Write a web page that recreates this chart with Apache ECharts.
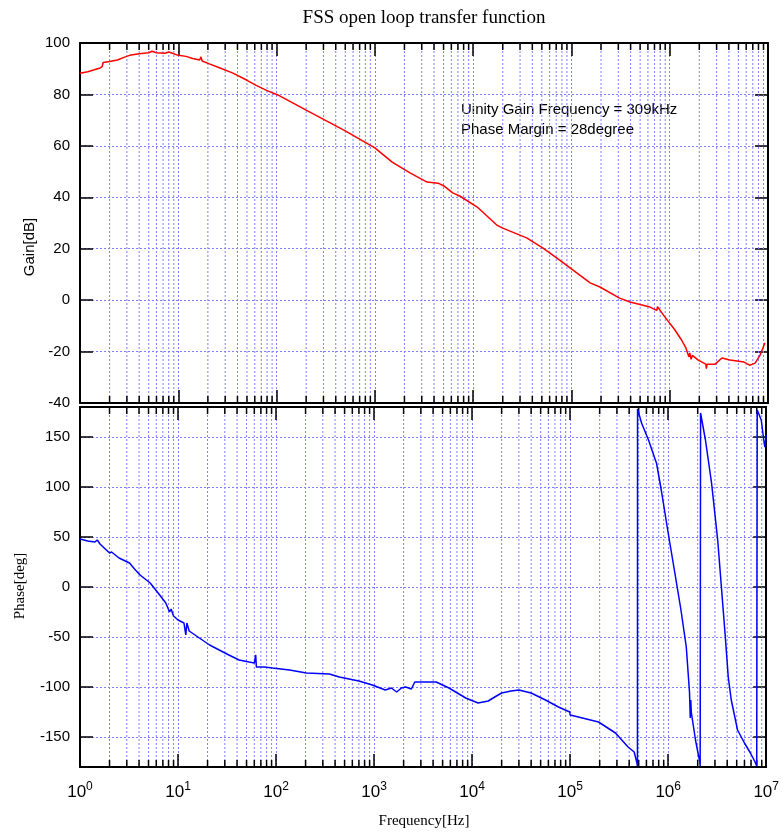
<!DOCTYPE html>
<html>
<head>
<meta charset="utf-8">
<script src="https://cdn.jsdelivr.net/npm/echarts@6/dist/echarts.min.js"></script>
<style>
  html, body { margin: 0; padding: 0; background: #fff; }
  #chart { width: 782px; height: 837px; }
</style>
</head>
<body>
<div id="chart"></div>
<script>
// gain curve (Hz, dB)
var gainFreq = [1, 1.2, 1.4, 1.6, 1.68, 1.72, 2.0, 2.4, 2.8, 3.2, 4.0, 5.0, 5.4, 6.0, 7.3, 8.0, 10, 12, 14, 16.5, 17, 17.5,
  21, 27, 36, 50, 62, 80, 103, 200, 500, 1000, 1500, 2300, 3400, 4400, 5000, 6200, 7300, 11000, 17400, 20000, 35000,
  51000, 76000, 155000, 195000, 309000, 394000, 630000, 740000, 750000, 895000, 1.13e6, 1.32e6, 1.46e6, 1.57e6, 1.6e6,
  1.65e6, 1.7e6, 1.95e6, 2.33e6, 2.36e6, 2.4e6, 2.9e6, 3.4e6, 4.1e6, 5.7e6, 6.5e6, 7.4e6, 8.3e6, 9.3e6]
var gainDb = [88.2, 88.8, 89.6, 90.3, 90.8, 92.4, 92.8, 93.4, 94.4, 95.2, 95.8, 96.2, 96.8, 96.2, 96.0, 96.5, 95.2, 94.8, 94.0, 93.4, 94.6, 93.0,
  91.8, 90.2, 88.3, 85.5, 83.5, 81.5, 79.8, 73.9, 65.8, 59.2, 53.7, 49.4, 45.9, 45.5, 44.5, 41.7, 40.5, 36.2, 29.2, 28.0, 24.2,
  20.3, 15.6, 6.7, 5.1, 0.8, -0.7, -2.7, -4.0, -2.5, -6.6, -11.6, -15.5, -18.6, -22.1, -20.5,
  -23.0, -21.5, -23.3, -24.9, -26.6, -24.9, -24.9, -22.5, -23.3, -24.1, -25.3, -24.5, -21.4, -16.7]

// phase curve (Hz, deg)
var phaseFreq = [1, 1.2, 1.42, 1.5, 1.6, 2.0, 2.1, 2.5, 3.2, 3.6, 4.1, 5.2, 6.5, 7.5, 8.2, 8.5, 9, 10, 11.5, 12, 12.3, 13,
  16.5, 21, 33, 42, 53, 60, 62, 63, 76, 92, 137, 204, 350, 442, 700, 960, 1300, 1500, 1700, 1900, 2100, 2400, 2600,
  3400, 4300, 5800, 8600, 11500, 14600, 17000, 20000, 25000, 30000, 40000, 56000, 76000, 99000, 100000, 195000,
  290000, 390000, 450000, 480000, 486000, 487000, 535000, 630000, 740000, 760000, 850000, 1.0e6, 1.17e6, 1.35e6,
  1.53e6, 1.65e6, 1.68e6, 1.70e6, 1.72e6, 1.9e6, 2.1e6, 2.12e6, 2.14e6, 2.4e6, 2.77e6, 3.2e6, 3.8e6, 4.1e6, 4.4e6,
  5.1e6, 6.0e6, 6.9e6, 7.7e6, 8.0e6, 8.1e6, 8.9e6, 9.5e6, 9.7e6, 1.0e7]
var phaseDeg = [48, 46, 45, 47, 43, 34, 35, 29, 24, 18, 12, 4, -8, -16, -25, -22, -29, -33, -36, -48, -36, -44,
  -51, -58, -68, -73, -75, -76, -68, -80, -80, -81, -83, -86, -87, -90, -94, -98, -103, -101, -105, -101, -100, -102, -95,
  -95, -95, -101, -111, -116, -114, -110, -106, -104, -103, -106, -113, -120, -125, -128, -135,
  -146, -160, -165, -176, -179, 178, 164, 147, 127, 124, 97, 54, 14, -23,
  -60, -105, -131, -113, -125, -153, -175, -179, 174, 147, 104, 47, -46, -90, -113,
  -143, -156, -166, -175, -179, 177, 167, 145, 140, 152]

// axes
var gainRange = [-40, 100]
var phaseRange = [-180, 180]
var phaseTicks = [-150, -100, -50, 0, 50, 100, 150]
var minorFreqs = []
for (var k = 0; k < 7; k++) {
  for (var m = 2; m <= 9; m++) minorFreqs.push(m * Math.pow(10, k))
}

var gridColor = '#7f7fff'
var sans = 'Liberation Sans'
var serif = 'Liberation Serif'

function zip(a, b) {
  return a.map(function (v, i) { return [v, b[i]] })
}

// minor decade lines and ticks
function minorRender(params, api) {
  var cs = params.coordSys
  var x = api.coord([api.value(0), api.value(1)])[0]
  var top = cs.y, bot = cs.y + cs.height
  return {
    type: 'group',
    silent: true,
    children: [
      { type: 'line', shape: { x1: x, y1: top, x2: x, y2: bot }, style: { stroke: gridColor, lineWidth: 1, lineDash: [2, 2] } },
      { type: 'line', shape: { x1: x, y1: bot, x2: x, y2: bot - 7 }, style: { stroke: '#000', lineWidth: 1.5 } },
      { type: 'line', shape: { x1: x, y1: top, x2: x, y2: top + 7 }, style: { stroke: '#000', lineWidth: 1.5 } }
    ]
  }
}

function xAxisFor(gridIndex, position, labels, split) {
  return {
    type: 'log',
    logBase: 10,
    gridIndex: gridIndex,
    position: position,
    min: 1,
    max: 1e7,
    splitNumber: 7,
    axisLine: { show: true, onZero: false, lineStyle: { color: '#000', width: 2 } },
    axisTick: { show: true, inside: true, length: 13, lineStyle: { color: '#000', width: 1.5 } },
    axisLabel: {
      show: labels,
      margin: 14,
      color: '#000',
      formatter: function (v) { return '{b|10}{s|' + Math.round(Math.log10(v)) + '}' },
      rich: {
        b: { fontFamily: sans, fontSize: 17, color: '#000' },
        s: { fontFamily: sans, fontSize: 12, color: '#000', padding: [0, 0, 10, 0] }
      }
    },
    splitLine: { show: split, lineStyle: { color: gridColor, width: 1, type: [2, 2] } }
  }
}

function yAxisFor(gridIndex, position, range, labels, split, ticks) {
  var ax = {
    type: 'value',
    gridIndex: gridIndex,
    position: position,
    min: range[0],
    max: range[1],
    axisLine: { show: true, lineStyle: { color: '#000', width: 2 } },
    axisTick: { show: true, inside: true, length: 13, lineStyle: { color: '#000', width: 1.5 } },
    axisLabel: { show: labels, color: '#000', fontFamily: sans, fontSize: 15, margin: 10 },
    splitLine: { show: split, lineStyle: { color: gridColor, width: 1, type: [2, 2] } }
  }
  if (ticks) {
    ax.axisTick.customValues = ticks
    ax.axisLabel.customValues = ticks
  } else {
    ax.interval = 20
  }
  return ax
}

var chart = echarts.init(document.getElementById('chart'), null, { renderer: 'canvas' })
var option = {
  animation: false,
  backgroundColor: '#fff',
  grid: [
    { left: 80, top: 43, width: 688, height: 360 },
    { left: 80, top: 407, width: 688, height: 360 }
  ],
  xAxis: [
    xAxisFor(0, 'bottom', false, true),
    xAxisFor(0, 'top', false, false),
    xAxisFor(1, 'bottom', true, true),
    xAxisFor(1, 'top', false, false)
  ],
  yAxis: [
    yAxisFor(0, 'left', gainRange, true, true, null),
    yAxisFor(0, 'right', gainRange, false, false, null),
    yAxisFor(1, 'left', phaseRange, true, true, phaseTicks),
    yAxisFor(1, 'right', phaseRange, false, false, phaseTicks)
  ],
  graphic: [
    { type: 'text', x: 424, y: 18, style: { text: 'FSS open loop transfer function', font: '19px "Liberation Serif"', fill: '#000', align: 'center', verticalAlign: 'middle' } },
    { type: 'text', x: 424, y: 821, style: { text: 'Frequency[Hz]', font: '15px "Liberation Serif"', fill: '#000', align: 'center', verticalAlign: 'middle' } },
    { type: 'text', x: 30, y: 247, rotation: Math.PI / 2, style: { text: 'Gain[dB]', font: '15px "Liberation Sans"', fill: '#000', align: 'center', verticalAlign: 'middle' } },
    { type: 'text', x: 20, y: 586, rotation: Math.PI / 2, style: { text: 'Phase[deg]', font: '15px "Liberation Serif"', fill: '#000', align: 'center', verticalAlign: 'middle' } },
    { type: 'text', x: 461, y: 110, style: { text: 'Uinity Gain Frequency = 309kHz', font: '15px "Liberation Sans"', fill: '#000', verticalAlign: 'middle' } },
    { type: 'text', x: 461, y: 130, style: { text: 'Phase Margin = 28degree', font: '15px "Liberation Sans"', fill: '#000', verticalAlign: 'middle' } }
  ],
  series: [
    {
      type: 'custom', xAxisIndex: 0, yAxisIndex: 0, z: 1, silent: true,
      renderItem: minorRender,
      data: minorFreqs.map(function (f) { return [f, gainRange[0]] })
    },
    {
      type: 'custom', xAxisIndex: 2, yAxisIndex: 2, z: 1, silent: true,
      renderItem: minorRender,
      data: minorFreqs.map(function (f) { return [f, phaseRange[0]] })
    },
    {
      name: 'Gain', type: 'line', xAxisIndex: 0, yAxisIndex: 0, z: 3,
      showSymbol: false, data: zip(gainFreq, gainDb),
      lineStyle: { color: '#ff0000', width: 1.5 }
    },
    {
      name: 'Phase', type: 'line', xAxisIndex: 2, yAxisIndex: 2, z: 3,
      showSymbol: false, data: zip(phaseFreq, phaseDeg),
      lineStyle: { color: '#0000ff', width: 1.5 }
    }
  ]
}
chart.setOption(option)
</script>
</body>
</html>
